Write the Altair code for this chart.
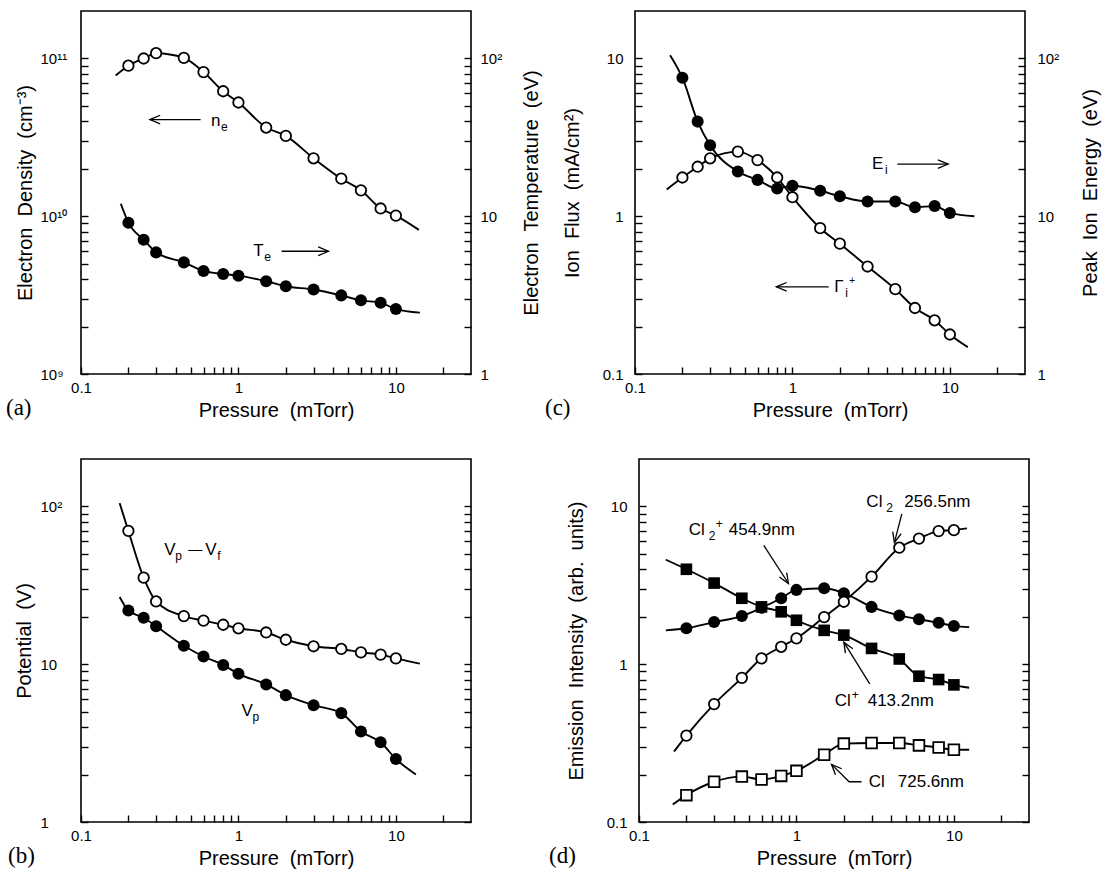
import altair as alt
import pandas as pd

FONT = "Liberation Sans"
SERIF = "Liberation Serif"
W, H = 390, 363
SP = "\u00a0 "  # wide word gap
Q = "\u2005"    # small shift used for centring the lone "1" under "10"
TICK = 7        # inward tick length (axis moved inside the frame by this amount)

# ---------------- shared x axis ----------------
X_DOMAIN = [0.1, 30]
X_TICKS = [0.1, 0.2, 0.3, 0.4, 0.5, 0.6, 0.7, 0.8, 0.9, 1, 2, 3, 4, 5, 6, 7, 8, 9, 10, 20]

P14 = [0.2, 0.25, 0.3, 0.45, 0.6, 0.8, 1, 1.5, 2, 3, 4.5, 6, 8, 10]
P13 = [0.2, 0.3, 0.45, 0.6, 0.8, 1, 1.5, 2, 3, 4.5, 6, 8, 10]

# ---------------- (a) ----------------
A_Y_DOMAIN = [1e9, 2e11]
A_Y_VALUES = [1e9, 1e10, 1e11]
A_Y_LABELS = ["10⁹", "10¹⁰", "10¹¹"]
A_Y_TICKS = [1e9, 2e9, 3e9, 4e9, 5e9, 6e9, 7e9, 8e9, 9e9,
             1e10, 2e10, 3e10, 4e10, 5e10, 6e10, 7e10, 8e10, 9e10, 1e11]
A_R_DOMAIN = [1, 200]
A_R_VALUES = [1, 10, 100]
A_R_LABELS = [Q + "1", "10", "10²"]
R_TICKS = [1, 2, 3, 4, 5, 6, 7, 8, 9, 10, 20, 30, 40, 50, 60, 70, 80, 90, 100]

NE = [9.0e10, 1.0e11, 1.08e11, 1.01e11, 8.2e10, 6.2e10, 5.26e10, 3.65e10,
      3.23e10, 2.33e10, 1.73e10, 1.46e10, 1.12e10, 1.01e10]
NE_END_P = [0.166, 14.0]
NE_END_V = [7.8e10, 8.2e9]
TE = [9.1, 7.1, 5.9, 5.1, 4.5, 4.3, 4.2, 3.87, 3.6, 3.43, 3.15, 2.93, 2.83, 2.58]
TE_END_P = [0.179, 14.2]
TE_END_V = [12.0, 2.45]

NE_TXT = [0.67, 4.0e10]
NE_PARTS = [("n", 0, 0, 17), ("e", 10, 6, 12)]
NE_ARROW_P = [0.575, 0.274]
NE_ARROW_V = [4.1e10, 4.1e10]
TE_TXT = [1.24, 6.0]
TE_PARTS = [("T", 0, 0, 17), ("e", 11, 6, 12)]
TE_ARROW_P = [1.88, 3.73]
TE_ARROW_V = [6.0, 6.0]

# ---------------- (b) ----------------
B_Y_DOMAIN = [1, 200]
B_Y_VALUES = [1, 10, 100]
B_Y_LABELS = [Q + "1", "10", "10²"]
B_Y_TICKS = [1, 2, 3, 4, 5, 6, 7, 8, 9, 10, 20, 30, 40, 50, 60, 70, 80, 90, 100]

VPVF = [70, 35.4, 25, 20.2, 18.9, 17.8, 16.9, 15.9, 14.3, 13.0, 12.5, 11.9, 11.5, 10.9]
VPVF_END_P = [0.176, 14.2]
VPVF_END_V = [105, 10.1]
VP = [21.9, 19.7, 17.4, 13.1, 11.2, 9.9, 8.7, 7.45, 6.37, 5.5, 4.9, 3.75, 3.2, 2.51]
VP_END_P = [0.176, 13.4]
VP_END_V = [26.7, 2.0]

VPVF_TXT = [0.338, 53]
VPVF_PARTS = [("V", 0, 0, 17), ("p", 11, 6, 12), ("—", 24, 0, 14),
              ("V", 41, 0, 17), ("f", 53, 6, 12)]
VP_TXT = [1.045, 5.06]
VP_PARTS = [("V", 0, 0, 17), ("p", 11, 6, 12)]

# ---------------- (c) ----------------
C_Y_DOMAIN = [0.1, 20]
C_Y_VALUES = [0.1, 1, 10]
C_Y_LABELS = ["0.1", "1", "10"]
C_Y_TICKS = [0.1, 0.2, 0.3, 0.4, 0.5, 0.6, 0.7, 0.8, 0.9, 1, 2, 3, 4, 5, 6, 7, 8, 9, 10]
C_R_DOMAIN = [1, 200]
C_R_VALUES = [1, 10, 100]
C_R_LABELS = [Q + "1", "10", "10²"]

EI = [75.5, 39.8, 28.2, 19.2, 17.0, 15.0, 15.6, 14.5, 13.4, 12.4, 12.4, 11.4, 11.6, 10.5]
EI_END_P = [0.167, 14.3]
EI_END_V = [105, 10]
GI = [1.76, 2.06, 2.33, 2.57, 2.27, 1.76, 1.32, 0.84, 0.67, 0.48, 0.345, 0.262, 0.219, 0.178]
GI_END_P = [0.159, 13.0]
GI_END_V = [1.48, 0.148]

EI_TXT = [3.2, 21.4]
EI_PARTS = [("E", 0, 0, 17), ("i", 13, 6, 12)]
EI_ARROW_P = [4.64, 9.75]
EI_ARROW_V = [21.4, 21.4]
GI_TXT = [1.84, 0.357]
GI_PARTS = [("Γ", 0, 0, 17), ("i", 11, 6, 12), ("+", 15, -6, 10)]
GI_ARROW_P = [1.70, 0.79]
GI_ARROW_V = [0.357, 0.357]

# ---------------- (d) ----------------
D_Y_DOMAIN = [0.1, 20]
D_Y_VALUES = [0.1, 1, 10]
D_Y_LABELS = ["0.1", "1", "10"]
D_R_DOMAIN = [0.1, 20]

CLP = [4.0, 3.27, 2.62, 2.31, 2.15, 1.9, 1.64, 1.53, 1.26, 1.08, 0.84, 0.80, 0.74]
CLP_END_P = [0.148, 12.5]
CLP_END_V = [4.6, 0.71]
CL2P = [1.69, 1.85, 2.02, 2.28, 2.62, 2.96, 3.03, 2.82, 2.31, 2.04, 1.93, 1.83, 1.75]
CL2P_END_P = [0.148, 12.5]
CL2P_END_V = [1.64, 1.72]
CL2 = [0.353, 0.559, 0.82, 1.09, 1.29, 1.46, 1.99, 2.49, 3.59, 5.48, 6.26, 6.98, 7.08]
CL2_END_P = [0.167, 12.1]
CL2_END_V = [0.28, 7.26]
CL = [0.148, 0.18, 0.194, 0.186, 0.196, 0.211, 0.267, 0.314, 0.317, 0.317, 0.306, 0.297, 0.287]
CL_END_P = [0.164, 12.5]
CL_END_V = [0.129, 0.287]

CL2P_TXT = [0.207, 7.08]
CL2P_PARTS = [("Cl", 0, 0, 17), ("2", 20, 6, 12), ("+", 27, -6, 12), ("454.9nm", 40, 0, 17)]
CL2P_ARROW_P = [0.62, 0.89]
CL2P_ARROW_V = [5.67, 3.25]
CL2P_ARROW_ANGLE = 58

CL2_TXT = [2.78, 10.6]
CL2_PARTS = [("Cl", 0, 0, 17), ("2", 20, 6, 12), ("256.5nm", 38, 0, 17)]
CL2_ARROW_P = [4.67, 4.19]
CL2_ARROW_V = [8.97, 5.9]
CL2_ARROW_ANGLE = 104

CLP_TXT = [1.75, 0.587]
CLP_PARTS = [("Cl", 0, 0, 17), ("+", 17, -6, 12), ("413.2nm", 33, 0, 17)]
CLP_ARROW_P = [2.92, 2.0]
CLP_ARROW_V = [0.75, 1.38]
CLP_ARROW_ANGLE = 239

CL_TXT = [2.88, 0.18]
CL_PARTS = [("Cl", 0, 0, 17), ("725.6nm", 29, 0, 17)]
CL_ARROW_P = [2.59, 2.16, 1.67]
CL_ARROW_V = [0.18, 0.18, 0.232]
CL_ARROW_ANGLE = 226

LETTERS = ["(a)", "(b)", "(c)", "(d)"]

ARROW_SHAPE = "M -1 -0.42 L 0 0 L -1 0.42"

DECADE = "abs(log(datum.value) / LN10 - round(log(datum.value) / LN10)) < 0.01"


def label_expr(vals, labels):
    expr = "'" + labels[-1] + "'"
    for i in range(len(vals) - 2, -1, -1):
        mid = (vals[i] * vals[i + 1]) ** 0.5
        expr = f"datum.value < {mid} ? '{labels[i]}' : {expr}"
    return f"{DECADE} ? ({expr}) : ''"


TICK_STYLE = dict(ticks=True, tickSize=TICK, tickWidth=1.4, tickColor="black", offset=-TICK,
                  labelOverlap=False, labelFlush=False)

x_axis = alt.Axis(values=X_TICKS, labelExpr=f"{DECADE} ? format(datum.value, '~g') : ''",
                  title="Pressure" + SP + "(mTorr)", labelPadding=6, titlePadding=5, orient="bottom",
                  **TICK_STYLE)


def X(field):
    return alt.X(f"{field}:Q", scale=alt.Scale(type="log", domain=X_DOMAIN, nice=False), axis=x_axis)


def make_Y(domain, axis):
    def Y(field):
        return alt.Y(f"{field}:Q", scale=alt.Scale(type="log", domain=domain, nice=False), axis=axis)
    return Y


def series(px, py, end_p, end_v, style, Y):
    pts = pd.DataFrame({"p": px, "v": py})
    ln = pd.DataFrame({"p": [end_p[0]] + px + [end_p[1]], "v": [end_v[0]] + py + [end_v[1]]})
    line = alt.Chart(ln).mark_line(color="black", strokeWidth=1.9, interpolate="monotone").encode(
        x=X("p"), y=Y("v"))
    shape = "square" if "square" in style else "circle"
    if style.startswith("open"):
        mk = alt.Chart(pts).mark_point(shape=shape, filled=True, fill="white", stroke="black",
                                       strokeWidth=1.8, size=110 if shape == "circle" else 115, opacity=1)
    else:
        mk = alt.Chart(pts).mark_point(shape=shape, filled=True, color="black",
                                       size=145 if shape == "circle" else 135, opacity=1)
    return [line, mk.encode(x=X("p"), y=Y("v"))]


def text_parts(anchor, parts, Y):
    df = pd.DataFrame({"p": [anchor[0]], "v": [anchor[1]]})
    out = []
    for t, dx, dy, fs in parts:
        out.append(alt.Chart(df).mark_text(text=t, dx=dx, dy=dy, fontSize=fs, font=FONT, align="left",
                                           baseline="middle", color="black").encode(x=X("p"), y=Y("v")))
    return out


def arrow(ps, vs, angle, Y):
    df = pd.DataFrame({"p": ps, "v": vs, "o": list(range(len(ps)))})
    line = alt.Chart(df).mark_line(color="black", strokeWidth=1.3).encode(
        x=X("p"), y=Y("v"), order="o:Q")
    head = alt.Chart(df.iloc[[-1]]).mark_point(shape=ARROW_SHAPE, angle=angle, size=420, filled=False,
                                               color="black", strokeWidth=1.3, opacity=1).encode(
        x=X("p"), y=Y("v"))
    return [line, head]


def carrier(vals, Y):
    # invisible marks that only carry the right-hand tick axis
    df = pd.DataFrame({"p": [1] * len(vals), "v": vals})
    return alt.Chart(df).mark_point(opacity=0, size=1).encode(x=X("p"), y=Y("v"))


def letter(txt, dx):
    df = pd.DataFrame({"t": [txt]})
    return alt.Chart(df).mark_text(font=SERIF, fontSize=23, align="left", baseline="middle",
                                   color="black").encode(x=alt.value(dx), y=alt.value(H + 34), text="t:N")


def left_axis(ticks, vals, labels, title, tpad, align="right", lpad=12):
    return alt.Axis(orient="left", values=ticks, labelExpr=label_expr(vals, labels), title=title,
                    labelPadding=lpad, titlePadding=tpad, labelAlign=align, **TICK_STYLE)


def right_axis(ticks, vals, labels, title, tpad, lpad):
    return alt.Axis(orient="right", values=ticks, labelExpr=label_expr(vals, labels), title=title,
                    labelPadding=lpad, titlePadding=tpad, titleAngle=270,
                    titleBaseline="top", labelAlign="left", **TICK_STYLE)


def right_ticks_only(ticks):
    return alt.Axis(orient="right", values=ticks, labels=False, title=None, ticks=True, tickSize=TICK,
                    tickWidth=1.4, tickColor="black", offset=-TICK)


# ---------------- panel (a) ----------------
YA = make_Y(A_Y_DOMAIN, left_axis(A_Y_TICKS, A_Y_VALUES, A_Y_LABELS,
                                  "Electron" + SP + "Density" + SP + "(cm⁻³)", 5, align="left", lpad=41))
YAR = make_Y(A_R_DOMAIN, right_axis(R_TICKS, A_R_VALUES, A_R_LABELS,
                                    "Electron" + SP + "Temperature" + SP + "(eV)", 20, 9))
a_left = (series(P14, NE, NE_END_P, NE_END_V, "open_circle", YA)
          + text_parts(NE_TXT, NE_PARTS, YA) + arrow(NE_ARROW_P, NE_ARROW_V, 180, YA)
          + [letter(LETTERS[0], -75)])
a_right = (series(P14, TE, TE_END_P, TE_END_V, "filled_circle", YAR)
           + text_parts(TE_TXT, TE_PARTS, YAR) + arrow(TE_ARROW_P, TE_ARROW_V, 0, YAR))
panel_a = alt.layer(alt.layer(*a_left), alt.layer(*a_right)).resolve_scale(y="independent").properties(
    width=W, height=H)

# ---------------- panel (b) ----------------
YB = make_Y(B_Y_DOMAIN, left_axis(B_Y_TICKS, B_Y_VALUES, B_Y_LABELS, "Potential" + SP + "(V)", 6,
                                  align="left", lpad=41))
YBR = make_Y(B_Y_DOMAIN, right_ticks_only(B_Y_TICKS))
b_left = (series(P14, VPVF, VPVF_END_P, VPVF_END_V, "open_circle", YB)
          + series(P14, VP, VP_END_P, VP_END_V, "filled_circle", YB)
          + text_parts(VPVF_TXT, VPVF_PARTS, YB) + text_parts(VP_TXT, VP_PARTS, YB)
          + [letter(LETTERS[1], -73)])
panel_b = alt.layer(alt.layer(*b_left), alt.layer(carrier(B_Y_TICKS, YBR))).resolve_scale(
    y="independent").properties(width=W, height=H)

# ---------------- panel (c) ----------------
YC = make_Y(C_Y_DOMAIN, left_axis(C_Y_TICKS, C_Y_VALUES, C_Y_LABELS,
                                  "Ion" + SP + "Flux" + SP + "(mA/cm²)", 20))
YCR = make_Y(C_R_DOMAIN, right_axis(R_TICKS, C_R_VALUES, C_R_LABELS,
                                    "Peak" + SP + "Ion" + SP + "Energy" + SP + "(eV)", 22, 12))
c_left = (series(P14, GI, GI_END_P, GI_END_V, "open_circle", YC)
          + text_parts(GI_TXT, GI_PARTS, YC) + arrow(GI_ARROW_P, GI_ARROW_V, 180, YC)
          + [letter(LETTERS[2], -90)])
c_right = (series(P14, EI, EI_END_P, EI_END_V, "filled_circle", YCR)
           + text_parts(EI_TXT, EI_PARTS, YCR) + arrow(EI_ARROW_P, EI_ARROW_V, 0, YCR))
panel_c = alt.layer(alt.layer(*c_left), alt.layer(*c_right)).resolve_scale(y="independent").properties(
    width=W, height=H)

# ---------------- panel (d) ----------------
YD = make_Y(D_Y_DOMAIN, left_axis(C_Y_TICKS, D_Y_VALUES, D_Y_LABELS,
                                  "Emission" + SP + "Intensity" + SP + "(arb." + SP + "units)", 20))
YDR = make_Y(D_R_DOMAIN, right_ticks_only(C_Y_TICKS))
d_left = (series(P13, CLP, CLP_END_P, CLP_END_V, "filled_square", YD)
          + series(P13, CL2P, CL2P_END_P, CL2P_END_V, "filled_circle", YD)
          + series(P13, CL2, CL2_END_P, CL2_END_V, "open_circle", YD)
          + series(P13, CL, CL_END_P, CL_END_V, "open_square", YD)
          + text_parts(CL2P_TXT, CL2P_PARTS, YD) + arrow(CL2P_ARROW_P, CL2P_ARROW_V, CL2P_ARROW_ANGLE, YD)
          + text_parts(CL2_TXT, CL2_PARTS, YD) + arrow(CL2_ARROW_P, CL2_ARROW_V, CL2_ARROW_ANGLE, YD)
          + text_parts(CLP_TXT, CLP_PARTS, YD) + arrow(CLP_ARROW_P, CLP_ARROW_V, CLP_ARROW_ANGLE, YD)
          + text_parts(CL_TXT, CL_PARTS, YD) + arrow(CL_ARROW_P, CL_ARROW_V, CL_ARROW_ANGLE, YD)
          + [letter(LETTERS[3], -90)])
panel_d = alt.layer(alt.layer(*d_left), alt.layer(carrier(C_Y_TICKS, YDR))).resolve_scale(
    y="independent").properties(width=W, height=H)

chart = alt.vconcat(
    alt.hconcat(panel_a, panel_c, spacing=1),
    alt.hconcat(panel_b, panel_d, spacing=75),
    spacing=37,
).properties(
    padding={"left": 5, "top": 10, "right": 5, "bottom": 5}
).configure_view(
    stroke="black", strokeWidth=1.6
).configure_axis(
    labelFont=FONT, titleFont=FONT, labelFontSize=15, titleFontSize=20, labelColor="black",
    titleColor="black", titleFontWeight="normal", ticks=False, domain=False, grid=False
)

chart.save("out.html", embed_options={"renderer": "svg", "actions": False})
